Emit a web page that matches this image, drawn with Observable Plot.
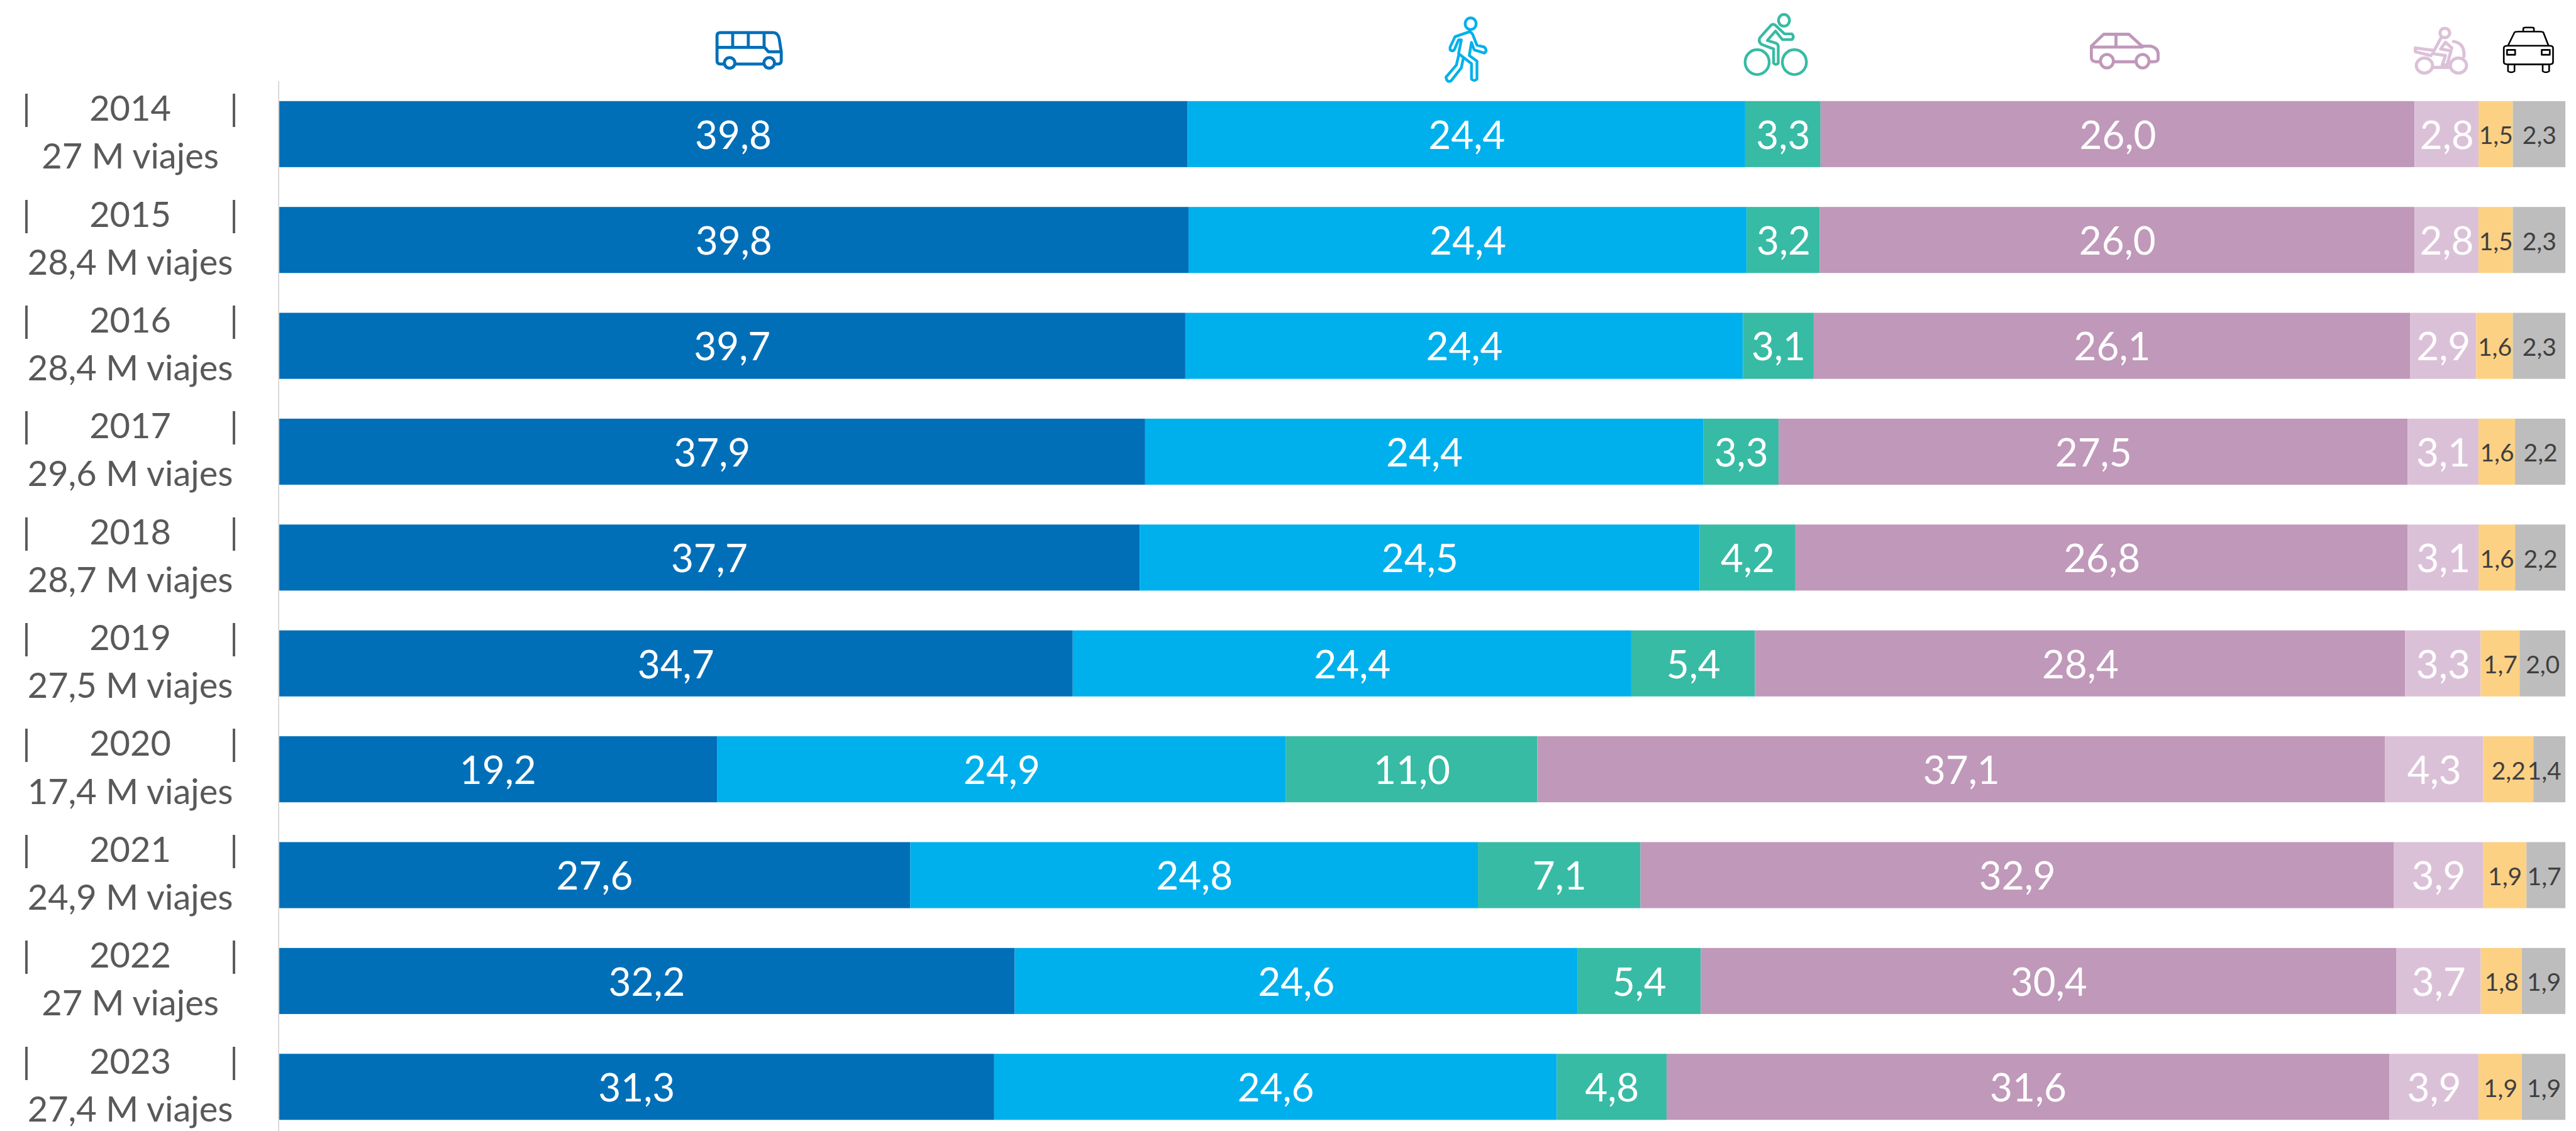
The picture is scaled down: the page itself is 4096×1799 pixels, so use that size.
<!DOCTYPE html>
<html lang="es">
<head>
<meta charset="utf-8">
<script src="https://cdn.jsdelivr.net/npm/d3@7"></script>
<script src="https://cdn.jsdelivr.net/npm/@observablehq/plot@0.6"></script>
<style>
html,body{margin:0;padding:0;background:#fff;overflow:hidden}
</style>
</head>
<body>
<div id="chart"></div>
<script>
const years = ["2014","2015","2016","2017","2018","2019","2020","2021","2022","2023"];
const trips = ["27 M viajes","28,4 M viajes","28,4 M viajes","29,6 M viajes","28,7 M viajes","27,5 M viajes","17,4 M viajes","24,9 M viajes","27 M viajes","27,4 M viajes"];
const modes = ["Bus","Pie","Bici","Coche","Moto","Otros","Taxi"];
const bus   = [39.8,39.8,39.7,37.9,37.7,34.7,19.2,27.6,32.2,31.3];
const pie   = [24.4,24.4,24.4,24.4,24.5,24.4,24.9,24.8,24.6,24.6];
const bici  = [3.3,3.2,3.1,3.3,4.2,5.4,11.0,7.1,5.4,4.8];
const coche = [26.0,26.0,26.1,27.5,26.8,28.4,37.1,32.9,30.4,31.6];
const moto  = [2.8,2.8,2.9,3.1,3.1,3.3,4.3,3.9,3.7,3.9];
const otros = [1.5,1.5,1.6,1.6,1.6,1.7,2.2,1.9,1.8,1.9];
const taxi  = [2.3,2.3,2.3,2.2,2.2,2.0,1.4,1.7,1.9,1.9];
const colors = ["#006fb8","#00b0ec","#37bba4","#c098b9","#dbc1d8","#fdd184","#bdbdbd"];
const smallModes = ["Otros","Taxi"];

const series = [bus,pie,bici,coche,moto,otros,taxi];
const rows = modes.flatMap((mode,m)=>years.map((year,i)=>({year,mode,value:series[m][i]})));

const k = 4096/4559;
const bandLabel = y => {
  const pad = "\u00a0".repeat(6) + "\u2009";
  return `|${pad}${y}${pad}|\n${trips[years.indexOf(y)]}`;
};

// Header pictograms, traced in crop coordinates of the reference.
const icons = [
  {stroke:"#006fb8",w:4.8,ox:1200,oy:20,sx:3,sy:3,d:"M240,280H225Q207,280,207,262V130Q207,113,225,113H505Q530,113,537,145L548,215V262Q548,280,530,280H515M305,280H450M207,192H460L480,215H548M290,113V192M373,113V192M457,113V192M302,274A28,28,0,1,1,246,274A28,28,0,1,1,302,274M512,274A28,28,0,1,1,456,274A28,28,0,1,1,512,274"},
  {stroke:"#00b0ec",w:4.4,ox:2500,oy:20,sx:2.063,sy:3,d:"M205,110L155,135L137,190V205Q145,215,152,205L168,152H178L168,225L215,278V360Q225,375,235,360V265L207,235L215,165L225,205L262,222Q275,210,262,190L235,180L220,125Q215,108,205,110ZM168,235L160,285L122,350Q125,380,140,370L178,300L185,250M232,66A20,31,0,1,1,192,66A20,31,0,1,1,232,66"},
  {stroke:"#37bba4",w:4.4,ox:2500,oy:20,sx:2.063,sy:3,d:"M1376,48A20,31,0,1,1,1336,48A20,31,0,1,1,1376,48M1302,270A44,66,0,1,1,1214,270A44,66,0,1,1,1302,270M1438,270A44,66,0,1,1,1350,270A44,66,0,1,1,1438,270M1310,72L1268,140Q1260,165,1278,178L1318,200V275Q1327,290,1335,275V185Q1335,175,1325,168L1295,155L1325,105L1350,150H1385Q1395,135,1385,120H1358L1325,75Q1318,65,1310,72Z"},
  {stroke:"#c098b9",w:4.8,ox:3660,oy:20,sx:1.744,sy:3,d:"M100,268H85Q72,265,72,245V185L110,122H188L228,185H255Q278,195,278,225V255Q278,268,262,268H250M140,268H210M75,190H230M148,122V185M140,265A20,36,0,1,1,100,265A20,36,0,1,1,140,265M250,265A20,36,0,1,1,210,265A20,36,0,1,1,250,265"},
  {stroke:"#dbc1d8",w:5,ox:3660,oy:20,sx:1.744,sy:3,d:"M1125,288A25,40,0,1,1,1075,288A25,40,0,1,1,1125,288M1230,288A25,40,0,1,1,1180,288A25,40,0,1,1,1230,288M1178,115A15,25,0,1,1,1148,115A15,25,0,1,1,1178,115M1190,160Q1225,170,1222,240M1125,298H1180M1072,195V215L1120,235M1072,195L1130,208M1150,145L1125,225L1165,235L1155,285H1170L1182,210L1150,200L1165,165L1185,195"},
  {stroke:"#000000",w:2.6,ox:3660,oy:20,sx:1.744,sy:3,d:"M1405,108V92Q1405,86,1412,86H1432Q1438,86,1438,92V108M1358,182L1378,112Q1380,108,1390,108H1455Q1465,108,1467,112L1483,182M1345,195Q1345,183,1358,183H1485Q1497,183,1497,195V270Q1497,282,1485,282H1358Q1345,282,1345,270ZM1355,205H1380V231H1355ZM1462,205H1487V231H1462ZM1358,282V318Q1368,330,1378,318V282M1465,282V318Q1475,330,1485,318V282"}
];
const iconMark = () => {
  const g = d3.create("svg:g").attr("fill","none").attr("stroke-linejoin","round").attr("stroke-linecap","round");
  for (const ic of icons) {
    g.append("path")
      .attr("d",ic.d)
      .attr("transform",`translate(${ic.ox*k},${ic.oy*k}) scale(${k/ic.sx},${k/ic.sy})`)
      .attr("vector-effect","non-scaling-stroke")
      .attr("stroke",ic.stroke)
      .attr("stroke-width",ic.w);
  }
  return g.node();
};

const isSmall = d => smallModes.includes(d.mode);
// The last label keeps clear of the chart's right edge, as in the reference.
const keepInside = (index,scales,values,dimensions,context,next) => {
  const limit = dimensions.width - dimensions.marginRight - 34;
  const x = Float64Array.from(values.x, v => Math.min(v,limit));
  return next(index,scales,{...values,x},dimensions,context);
};

const chart = Plot.plot({
  width:4096,
  height:1799,
  marginLeft:442.6,
  marginRight:16.9,
  marginTop:129,
  marginBottom:0,
  style:{fontFamily:"Lato, sans-serif",background:"#fff"},
  x:{domain:[0,1],axis:null},
  y:{type:"band",domain:years,range:[160.8,1781.3],round:false,paddingInner:0.376,paddingOuter:0,align:0.5,axis:null},
  color:{domain:modes,range:colors},
  marks:[
    Plot.barX(rows,Plot.stackX({x:"value",y:"year",z:"mode",fill:"mode",offset:"normalize",order:null})),
    Plot.ruleX([0],{stroke:"#d9d9d9",strokeWidth:2}),
    Plot.text(rows,Plot.stackX({
      x:"value",y:"year",z:"mode",offset:"normalize",order:null,
      text:d=>d.value.toFixed(1).replace(".",","),
      fill:{value:d=>isSmall(d)?"#404040":"#ffffff",scale:null},
      fontSize:d=>isSmall(d)?39:62,
      dy:3,
      render:keepInside
    })),
    Plot.axisY({
      anchor:"left",
      label:null,
      tickSize:0,
      tickPadding:236,
      textAnchor:"middle",
      tickFormat:bandLabel,
      fontSize:56,
      lineHeight:1.36,
      fill:"#595959",
      dy:-8
    }),
    iconMark
  ]
});
document.getElementById("chart").appendChild(chart);
</script>
</body>
</html>
